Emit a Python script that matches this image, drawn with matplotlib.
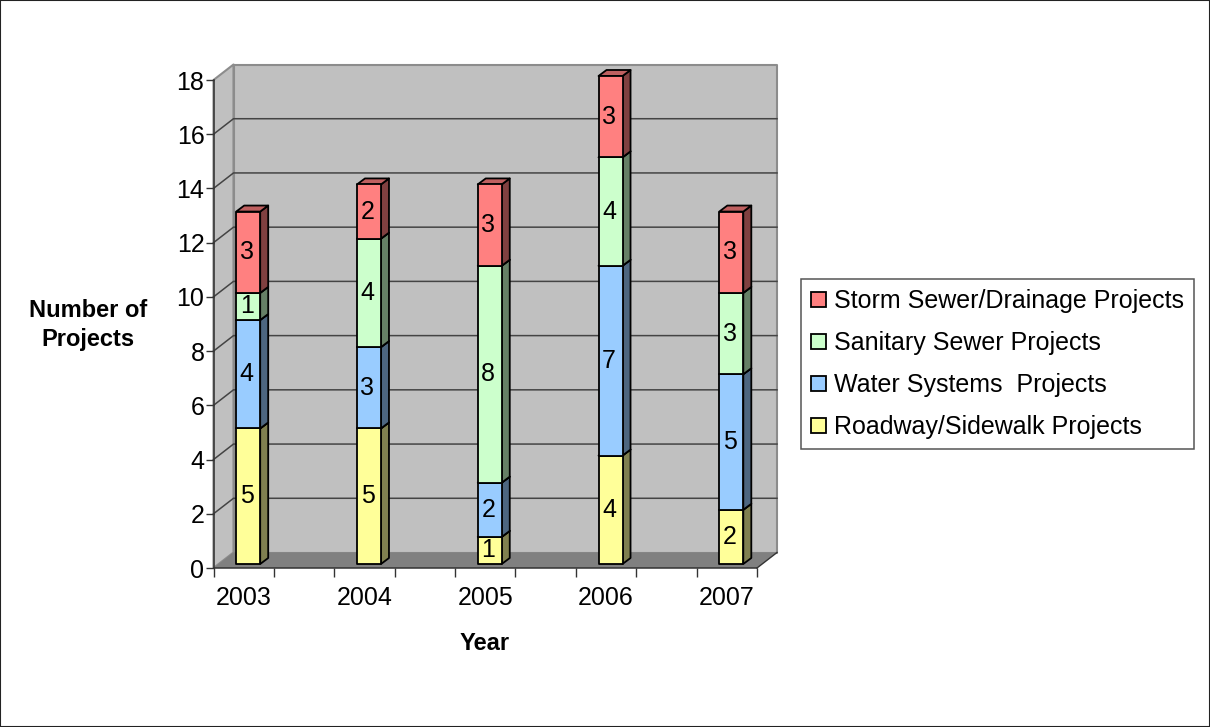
import numpy as np
import matplotlib
matplotlib.use("Agg")
import matplotlib.pyplot as plt
from matplotlib.patches import Patch, Polygon, Rectangle

plt.rcParams["font.family"] = ["Liberation Sans", "DejaVu Sans"]

years = ["2003", "2004", "2005", "2006", "2007"]
roadway = [5, 5, 1, 4, 2]
water = [4, 3, 2, 7, 5]
sanitary = [1, 4, 8, 4, 3]
storm = [3, 2, 3, 3, 3]

series = [roadway, water, sanitary, storm]
names = ["Roadway/Sidewalk Projects", "Water Systems  Projects",
         "Sanitary Sewer Projects", "Storm Sewer/Drainage Projects"]
front = ["#FFFF99", "#99CCFF", "#CCFFCC", "#FF8080"]
side = ["#808050", "#4D6680", "#668066", "#804040"]
top = ["#BFBF73", "#7399BF", "#99BF99", "#BF6060"]

W, H = 1210, 727
fig = plt.figure(figsize=(W / 100, H / 100), dpi=100)
fig.add_artist(Rectangle((0, 0), 1, 1, transform=fig.transFigure, fill=False,
                         edgecolor="#222222", linewidth=1.5))

# axes box is the front plane of the 3D box
x0, x1, y0, y1 = 213.5, 757, 568, 80
ax = fig.add_axes([x0 / W, 1 - y0 / H, (x1 - x0) / W, (y0 - y1) / H])
ax.set_xlim(0, 4.5)
ax.set_ylim(0, 18)
ax.patch.set_visible(False)
for s in ["top", "right"]:
    ax.spines[s].set_visible(False)
for s in ["left", "bottom"]:
    ax.spines[s].set_color("#333333")
    ax.spines[s].set_linewidth(1.1)

ux = (x1 - x0) / 4.5
uy = (y0 - y1) / 18
ddx, ddy = 20 / ux, 15.5 / uy  # depth of the box
bdx, bdy = 8 / ux, 6 / uy  # depth of a bar
sx, sy = 4.5 / ux, 4 / uy  # bars sit a little behind the front plane
bw = 24 / ux


def poly(pts, fc, ec="none", lw=0.0, z=1):
    ax.add_patch(Polygon(pts, closed=True, facecolor=fc, edgecolor=ec, linewidth=lw,
                         zorder=z, clip_on=False, joinstyle="round"))


# walls and floor
poly([(ddx, ddy), (4.5 + ddx, ddy), (4.5 + ddx, 18 + ddy), (ddx, 18 + ddy)], "#C0C0C0", "#8C8C8C", 1.5, 1)
poly([(0, 0), (ddx, ddy), (ddx, 18 + ddy), (0, 18)], "#C0C0C0", "#8C8C8C", 1.5, 1)
poly([(0, 0), (4.5, 0), (4.5 + ddx, ddy), (ddx, ddy)], "#808080", z=1.5)
ax.plot([4.5, 4.5 + ddx], [0, ddy], color="#333333", lw=1.0, zorder=1.6, clip_on=False)

for v in range(2, 18, 2):
    ax.plot([0, ddx, 4.5 + ddx], [v, v + ddy, v + ddy], color="#444444", lw=1.1, zorder=1.7, clip_on=False)

# stacked bars
base = np.zeros(len(years))
for k, vals in enumerate(series):
    for i, v in enumerate(vals):
        left = i + 0.25 + sx - bw / 2
        right = left + bw
        b = base[i] + sy
        t = b + v
        poly([(right, b), (right + bdx, b + bdy), (right + bdx, t + bdy), (right, t)],
             side[k], "black", 1.3, 3 + k)
        poly([(left, t), (right, t), (right + bdx, t + bdy), (left + bdx, t + bdy)],
             top[k], "black", 1.3, 3 + k)
        poly([(left, b), (right, b), (right, t), (left, t)], front[k], "black", 1.3, 3 + k + 0.1)
        ax.text(i + 0.25 + sx - 1.5 / ux, b + v / 2, str(v), ha="center", va="center",
                fontsize=18, color="black", zorder=10)
    base += np.array(vals)

ax.set_yticks(np.arange(0, 19, 2))
ax.tick_params(axis="y", labelsize=18, length=5.5, width=1.0, color="#333333", pad=1)
ax.set_xticks(np.arange(0, 4.51, 0.5))
ax.set_xticklabels([])
ax.tick_params(axis="x", which="major", length=6.5, width=1.0, color="#333333")
ax.set_xticks(np.arange(5) + 0.25, minor=True)
ax.set_xticklabels(years, minor=True)
ax.tick_params(axis="x", which="minor", length=0, labelsize=18, pad=13)

fig.text(88 / W, 1 - 325 / H, "Number of\nProjects", ha="center", va="center",
         fontsize=17, fontweight="bold", linespacing=1.35)
fig.text(485 / W, 1 - 643 / H, "Year", ha="center", va="center", fontsize=17, fontweight="bold")

handles = [Patch(facecolor=front[k], edgecolor="black", linewidth=1.3, label=names[k])
           for k in range(3, -1, -1)]
leg = fig.legend(handles=handles, loc="center left", bbox_to_anchor=(800.7 / W, 1 - 364.5 / H),
                 borderaxespad=0, frameon=True, fancybox=False, edgecolor="#555555",
                 facecolor="white", framealpha=1, fontsize=18, handlelength=0.6,
                 handleheight=0.55, handletextpad=0.35, labelspacing=0.72, borderpad=0.4)
leg.get_frame().set_linewidth(1.1)

fig.savefig("out.png", dpi=100)
plt.close(fig)
